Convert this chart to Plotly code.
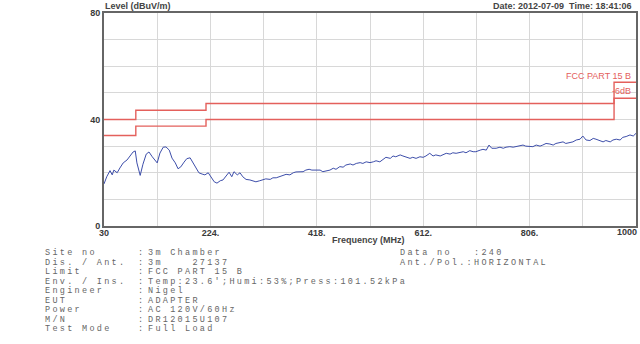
import plotly.graph_objects as go

# ---------------- data ----------------
freq = [30, 35, 41, 45, 48, 54, 59, 65, 72, 77, 83, 87, 90, 96, 101, 107, 112, 118, 123, 127,
        132, 138, 143, 149, 154, 160, 165, 170, 176, 181, 187, 192, 198, 203, 209, 214, 220, 225,
        231, 236, 242, 247, 252, 258, 263, 267, 273, 278, 283, 289, 296, 302, 307, 314, 320, 325,
        333, 338, 344, 351, 356, 362, 369, 375, 380, 386, 393, 398, 404, 409, 411, 417, 424, 429,
        435, 442, 448, 453, 460, 466, 471, 479, 484, 490, 497, 502, 508, 515, 521, 526, 533, 539,
        544, 552, 557, 562, 570, 575, 581, 588, 593, 599, 606, 612, 617, 624, 630, 635, 643, 648,
        654, 661, 666, 672, 679, 685, 690, 697, 703, 708, 716, 721, 727, 732, 737, 745, 752, 758,
        763, 770, 776, 781, 789, 794, 799, 807, 812, 818, 825, 830, 836, 843, 849, 854, 861, 867,
        872, 880, 885, 891, 898, 903, 909, 916, 922, 927, 934, 940, 945, 953, 958, 964, 971, 976,
        982, 989, 995, 1000]
level = [15.8, 18.5, 20.8, 19.2, 21.0, 20.0, 21.8, 23.7, 24.8, 26.3, 27.8, 28.2, 23.7, 19.0, 23.2,
         27.0, 27.8, 26.0, 24.5, 23.7, 27.4, 29.6, 29.7, 28.5, 25.5, 23.7, 21.5, 22.2, 24.0, 25.3,
         25.6, 24.0, 21.8, 20.0, 19.5, 19.2, 20.0, 18.5, 16.6, 16.1, 17.0, 17.3, 18.5, 20.2, 18.5,
         20.4, 19.2, 20.0, 18.5, 17.5, 17.3, 17.0, 16.6, 17.0, 17.3, 17.7, 17.5, 18.1, 18.1, 18.5,
         18.9, 19.4, 19.2, 20.0, 20.3, 20.4, 20.4, 21.0, 21.3, 21.0, 21.0, 20.8, 21.0, 20.4, 20.8,
         21.0, 21.7, 21.3, 22.3, 22.1, 22.9, 23.3, 22.9, 23.5, 23.8, 23.5, 24.1, 23.8, 24.1, 24.5,
         24.1, 25.0, 25.8, 25.4, 26.3, 26.0, 26.7, 26.3, 25.8, 25.4, 25.8, 25.4, 26.0, 25.8, 26.3,
         27.3, 26.3, 26.7, 26.3, 26.7, 27.3, 27.0, 27.5, 27.3, 27.5, 27.9, 27.5, 28.3, 27.9, 27.9,
         28.5, 28.8, 28.5, 30.4, 29.2, 29.2, 29.6, 29.2, 29.6, 29.8, 29.6, 29.8, 30.0, 30.4, 30.0,
         30.0, 29.8, 30.4, 30.0, 30.4, 31.0, 30.8, 30.4, 31.0, 31.3, 31.6, 31.0, 31.3, 31.6, 32.3,
         32.6, 33.8, 32.3, 32.1, 32.9, 32.6, 32.1, 31.6, 32.1, 31.6, 32.3, 32.6, 32.3, 33.3, 33.6,
         34.2, 33.8, 34.8]

limit_freq = [30, 88, 88, 216, 216, 960, 960, 1000]
limit_qp = [40, 40, 43.5, 43.5, 46, 46, 54, 54]
limit_margin = [34, 34, 37.5, 37.5, 40, 40, 48, 48]

x_tickvals = [30, 127, 224, 321, 418, 515, 612, 709, 806, 903, 1000]
x_ticktext = ["30", "", "224.", "", "418.", "", "612.", "", "806.", "", ""]
x_last_label = "1000"
y_tickvals = [0, 10, 20, 30, 40, 50, 60, 70, 80]
y_ticktext = ["0", "", "", "", "40", "", "", "", "80"]

info_labels = ["Site no", "Dis. / Ant.", "Limit", "Env. / Ins.", "Engineer", "EUT", "Power",
               "M/N", "Test Mode"]
info_values = ["3m Chamber", "3m    27137", "FCC PART 15 B",
               "Temp:23.6';Humi:53%;Press:101.52kPa", "Nigel", "ADAPTER", "AC 120V/60Hz",
               "DR12015U107", "Full Load"]
info_right = ["Data no   :240", "Ant./Pol.:HORIZONTAL"]

# ---------------- layout helpers ----------------
W, H = 640, 344
L, R, T, B = 104, 4, 13, 118
PW, PH = W - L - R, H - T - B


def px(x):
    return (x - L) / PW


def py(y):
    return (H - B - y) / PH


fig = go.Figure()
fig.add_trace(go.Scatter(x=limit_freq, y=limit_qp, mode="lines",
                         line=dict(color="#e4605c", width=1.4), hoverinfo="skip"))
fig.add_trace(go.Scatter(x=limit_freq, y=limit_margin, mode="lines",
                         line=dict(color="#e4605c", width=1.4), hoverinfo="skip"))
fig.add_trace(go.Scatter(x=freq, y=level, mode="lines",
                         line=dict(color="#3d4eaa", width=1)))

tick_font = dict(family="Liberation Sans", size=9, color="#3a3a3a", weight="bold")
fig.update_xaxes(range=[30, 1000], tickvals=x_tickvals, ticktext=x_ticktext,
                 showgrid=True, gridcolor="#d8d8d8", gridwidth=1,
                 showline=True, linecolor="#666666", linewidth=2, mirror=True,
                 ticks="", tickfont=tick_font, zeroline=False,
                 ticklabelstandoff=-3, automargin=False)
fig.update_yaxes(range=[0, 80], tickvals=y_tickvals, ticktext=y_ticktext,
                 showgrid=True, gridcolor="#d8d8d8", gridwidth=1,
                 showline=True, linecolor="#666666", linewidth=2, mirror=True,
                 ticks="", tickfont=tick_font, zeroline=False, automargin=False)

ann = []
# last x tick label, kept inside the page at the right edge
ann.append(dict(text=x_last_label, x=px(639), y=py(232), xanchor="right", yanchor="middle",
                font=tick_font))
hdr = dict(family="Liberation Sans", size=9, color="#444444", weight="bold")
ann.append(dict(text="Level (dBuV/m)", x=px(103), y=py(6), xanchor="left", yanchor="middle",
                font=hdr))
ann.append(dict(text="Date: 2012-07-09  Time: 18:41:06", x=px(633), y=py(6), xanchor="right",
                yanchor="middle", font=hdr))
ann.append(dict(text="Frequency (MHz)", x=px(368), y=py(240), xanchor="center",
                yanchor="middle", font=hdr))
red = dict(family="Liberation Sans", size=9, color="#e4605c")
ann.append(dict(text="FCC PART 15 B", x=px(633), y=py(76), xanchor="right", yanchor="middle",
                font=red))
ann.append(dict(text="-6dB", x=px(633), y=py(91), xanchor="right", yanchor="middle", font=red))

mono = dict(family="Liberation Mono", size=8.5, color="#666666")
sp = '<span style="letter-spacing:2.3px">{}</span>'
row_y = [253, 262.5, 272, 281.5, 291, 300.5, 310, 319.5, 329]
for i, (lab, val) in enumerate(zip(info_labels, info_values)):
    ann.append(dict(text=sp.format(lab), x=px(43), y=py(row_y[i]), xanchor="left",
                    yanchor="middle", font=mono))
    ann.append(dict(text=":", x=px(136), y=py(row_y[i]), xanchor="left", yanchor="middle",
                    font=mono))
    ann.append(dict(text=sp.format(val), x=px(146), y=py(row_y[i]), xanchor="left",
                    yanchor="middle", font=mono))
for i, t in enumerate(info_right):
    ann.append(dict(text=sp.format(t), x=px(398), y=py(row_y[i]), xanchor="left",
                    yanchor="middle", font=mono))

for a in ann:
    a.update(xref="paper", yref="paper", showarrow=False)

fig.update_layout(width=W, height=H, margin=dict(l=L, r=R, t=T, b=B, pad=0, autoexpand=False),
                  paper_bgcolor="white", plot_bgcolor="white", showlegend=False,
                  annotations=ann)

fig.write_html("out.html")
